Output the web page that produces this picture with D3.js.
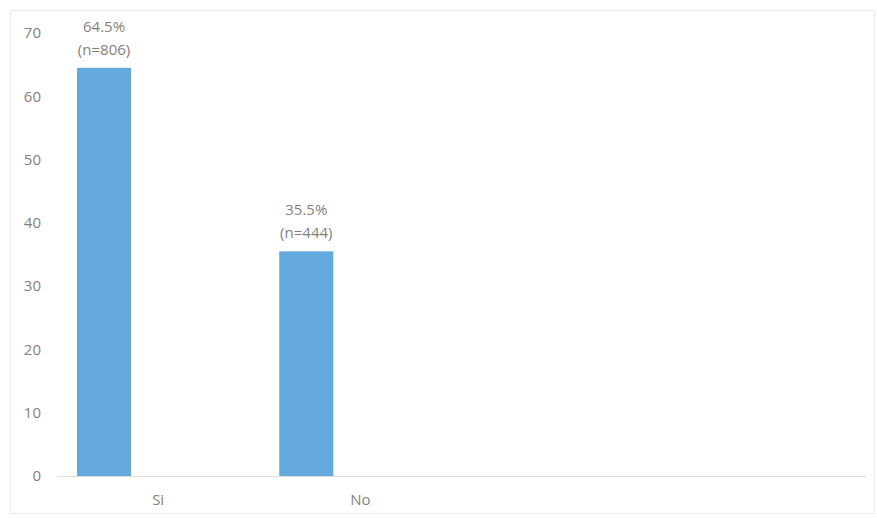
<!DOCTYPE html>
<html>
<head>
<meta charset="utf-8">
<script src="https://cdn.jsdelivr.net/npm/d3@7"></script>
<style>
  html, body { margin: 0; padding: 0; background: #fff; }
  svg { display: block; }
  text { font-family: "Open Sans", "Noto Sans", sans-serif; }
</style>
</head>
<body>
<svg id="chart" width="877" height="518"></svg>
<script>
// Category slots along the axis (the last two are unused slots)
const categories = ["Si", "No", "", ""];
// Percentage per category
const percentValues = [64.5, 35.5, null, null];
// Respondent counts per category
const counts = [806, 444, null, null];
// Value axis ticks
const yTicks = [0, 10, 20, 30, 40, 50, 60, 70];
// Series slots within each category cluster
const seriesSlots = ["s1", "s2", "s3"];

const plot = { left: 57, right: 866, top: 33, bottom: 476 };
const textColor = "#857f7b";
const barColor = "#64a9dc";
const fontSize = "15px";

const svg = d3.select("#chart");

// Chart frame
svg.append("rect")
  .attr("x", 10.5).attr("y", 10.5)
  .attr("width", 864).attr("height", 503)
  .attr("fill", "#fff")
  .attr("stroke", "#ececec").attr("stroke-width", 1);

const x = d3.scaleBand()
  .domain(d3.range(categories.length))
  .range([plot.left, plot.right])
  .padding(0);

const xInner = d3.scaleBand()
  .domain(seriesSlots)
  .range([0, x.bandwidth()])
  .paddingInner(0)
  .paddingOuter(0.37);

const y = d3.scaleLinear()
  .domain([0, 70])
  .range([plot.bottom, plot.top]);

// Y axis labels (no line, no ticks)
const yAxis = d3.axisLeft(y).tickValues(yTicks).tickSize(0).tickPadding(0);
const gy = svg.append("g")
  .attr("transform", `translate(41,0)`)
  .call(yAxis);
gy.select(".domain").remove();
gy.selectAll("text")
  .attr("fill", textColor)
  .style("font-size", fontSize)
  .style("font-family", "'Open Sans', sans-serif");

// Bars
const data = categories.map((c, i) => ({ i, c, v: percentValues[i], n: counts[i] }))
  .filter(d => d.v != null);

svg.append("g").selectAll("rect")
  .data(data)
  .join("rect")
  .attr("x", d => x(d.i) + xInner("s1"))
  .attr("width", xInner.bandwidth())
  .attr("y", d => y(d.v))
  .attr("height", d => y(0) - y(d.v))
  .attr("fill", barColor);

// Baseline / category axis
const xAxis = d3.axisBottom(x)
  .tickFormat(i => categories[i])
  .tickSize(0)
  .tickPadding(18);
const gx = svg.append("g")
  .attr("transform", `translate(0,${plot.bottom})`)
  .call(xAxis);
gx.select(".domain")
  .attr("stroke", "#dcdcdc")
  .attr("d", `M${plot.left},0.5H${plot.right}`);
gx.selectAll("text")
  .attr("fill", textColor)
  .style("font-size", fontSize)
  .style("font-family", "'Open Sans', sans-serif");

// Data labels: percentage and count above each bar
const cx = d => x(d.i) + xInner("s1") + xInner.bandwidth() / 2;
const labels = svg.append("g").selectAll("text")
  .data(data)
  .join("text")
  .attr("text-anchor", "middle")
  .attr("fill", textColor)
  .style("font-size", fontSize)
  .attr("x", cx);

labels.append("tspan")
  .attr("x", cx)
  .attr("y", d => y(d.v) - 36)
  .text(d => d.v.toFixed(1) + "%");
labels.append("tspan")
  .attr("x", cx)
  .attr("y", d => y(d.v) - 13)
  .text(d => "(n=" + d.n + ")");
</script>
</body>
</html>
